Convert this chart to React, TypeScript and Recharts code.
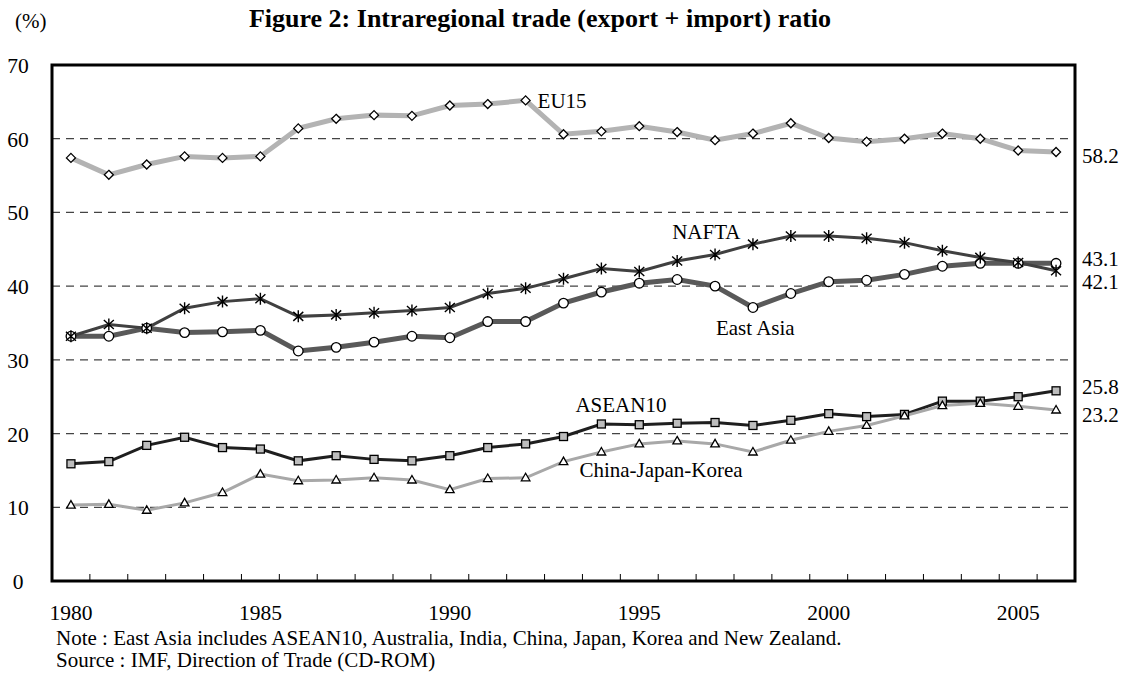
import { LineChart, Line, XAxis, YAxis, CartesianGrid, ReferenceArea } from "recharts";

const years = [
  1980, 1981, 1982, 1983, 1984, 1985, 1986, 1987, 1988, 1989, 1990, 1991, 1992, 1993,
  1994, 1995, 1996, 1997, 1998, 1999, 2000, 2001, 2002, 2003, 2004, 2005, 2006,
];
const eu15 = [57.4, 55.1, 56.5, 57.6, 57.4, 57.6, 61.4, 62.7, 63.2, 63.1, 64.5, 64.7, 65.2, 60.6, 61.0, 61.7, 60.9, 59.8, 60.7, 62.1, 60.1, 59.6, 60.0, 60.7, 60.0, 58.4, 58.2];
const nafta = [33.2, 34.8, 34.3, 37.0, 37.9, 38.3, 35.9, 36.1, 36.4, 36.7, 37.1, 39.0, 39.7, 41.0, 42.4, 42.0, 43.4, 44.3, 45.7, 46.8, 46.8, 46.5, 45.9, 44.8, 43.9, 43.2, 42.1];
const eastAsia = [33.2, 33.2, 34.3, 33.7, 33.8, 34.0, 31.2, 31.7, 32.4, 33.2, 33.0, 35.2, 35.2, 37.7, 39.2, 40.4, 40.9, 40.0, 37.1, 39.0, 40.6, 40.8, 41.6, 42.7, 43.1, 43.1, 43.1];
const asean10 = [15.9, 16.2, 18.4, 19.5, 18.1, 17.9, 16.3, 17.0, 16.5, 16.3, 17.0, 18.1, 18.6, 19.6, 21.3, 21.2, 21.4, 21.5, 21.1, 21.8, 22.7, 22.3, 22.6, 24.4, 24.4, 25.0, 25.8];
const cjk = [10.3, 10.4, 9.6, 10.6, 12.0, 14.5, 13.6, 13.7, 14.0, 13.7, 12.4, 13.9, 14.0, 16.2, 17.5, 18.6, 19.0, 18.6, 17.5, 19.1, 20.3, 21.1, 22.4, 23.8, 24.1, 23.7, 23.2];

const yTicks = [0, 10, 20, 30, 40, 50, 60, 70];
const yearLabels = [1980, 1985, 1990, 1995, 2000, 2005];

const data = years.map((year, i) => ({
  year,
  eu15: eu15[i],
  nafta: nafta[i],
  eastAsia: eastAsia[i],
  asean10: asean10[i],
  cjk: cjk[i],
}));

// tick marks sit between years, labels under every fifth year
const xTicks = [...yearLabels, ...years.slice(0, -1).map((y) => y + 0.5)];

const FONT = "'Liberation Serif', 'Times New Roman', serif";
const last = years.length - 1;

type Marker = (cx: number, cy: number) => JSX.Element;

const diamond: Marker = (cx, cy) => (
  <path d={`M${cx},${cy - 4.5}L${cx + 4.5},${cy}L${cx},${cy + 4.5}L${cx - 4.5},${cy}Z`} fill="#fff" stroke="#000" strokeWidth={1.3} />
);
const star: Marker = (cx, cy) => (
  <path
    d={`M${cx},${cy - 6}L${cx},${cy + 6}M${cx - 5},${cy - 4.5}L${cx + 5},${cy + 4.5}M${cx - 5},${cy + 4.5}L${cx + 5},${cy - 4.5}`}
    stroke="#000"
    strokeWidth={1.4}
    fill="none"
  />
);
const circle: Marker = (cx, cy) => <circle cx={cx} cy={cy} r={4.8} fill="#fff" stroke="#000" strokeWidth={1.3} />;
const square: Marker = (cx, cy) => <rect x={cx - 4} y={cy - 4} width={8} height={8} fill="#bdbdbd" stroke="#000" strokeWidth={1.3} />;
const triangle: Marker = (cx, cy) => (
  <path d={`M${cx},${cy - 4.5}L${cx + 4.3},${cy + 3}L${cx - 4.3},${cy + 3}Z`} fill="#fff" stroke="#000" strokeWidth={1.3} />
);

interface NameLabel {
  text: string;
  at: number;
  dx: number;
  dy: number;
}

function makeDot(key: string, marker: Marker, name: NameLabel, endDy: number) {
  return (p: any) => {
    const { cx, cy, index } = p;
    if (cx == null || cy == null) return <g key={index} />;
    return (
      <g key={index}>
        {marker(cx, cy)}
        {index === name.at && (
          <text x={cx + name.dx} y={cy + name.dy} fontSize={21} fontFamily={FONT} fill="#000">
            {name.text}
          </text>
        )}
        {index === last && (
          <text x={cx + 26} y={cy + endDy} fontSize={21} fontFamily={FONT} fill="#000">
            {Number(p.payload[key]).toFixed(1)}
          </text>
        )}
      </g>
    );
  };
}

const XTick = (p: any) => {
  const { x, y, payload } = p;
  const v = payload.value;
  if (Number.isInteger(v)) {
    return (
      <text x={x} y={y + 39} textAnchor="middle" fontSize={21.5} fontFamily={FONT} fill="#000">
        {v}
      </text>
    );
  }
  return <line x1={x} x2={x} y1={y} y2={y - 7} stroke="#000" strokeWidth={1} />;
};

const YTick = (p: any) => (
  <text x={18} y={p.y + 8} textAnchor="middle" fontSize={21.5} fontFamily={FONT} fill="#000">
    {p.payload.value}
  </text>
);

export default function App() {
  return (
    <div style={{ position: "absolute", left: 0, top: 0, width: 1127, height: 680, background: "#fff", fontFamily: FONT }}>
      <div style={{ position: "absolute", left: 15, top: 11, fontSize: 21, lineHeight: "21px" }}>(%)</div>
      <div style={{ position: "absolute", left: 0, width: 1080, top: 6, textAlign: "center", fontSize: 26, lineHeight: "26px", fontWeight: "bold" }}>
        Figure 2: Intraregional trade (export + import) ratio
      </div>

      <LineChart width={1127} height={680} data={data} margin={{ top: 65, right: 52, bottom: 59, left: 0 }}>
        <CartesianGrid vertical={false} stroke="#444" strokeDasharray="8 6" strokeWidth={1.2} />
        <ReferenceArea x1={1979.5} x2={2006.5} y1={0} y2={70} fill="none" stroke="#000" strokeWidth={3} ifOverflow="visible" />
        <XAxis
          dataKey="year"
          type="number"
          domain={[1979.5, 2006.5]}
          ticks={xTicks}
          interval={0}
          tick={XTick}
          tickLine={false}
          axisLine={false}
          tickSize={0}
          tickMargin={0}
          height={40}
        />
        <YAxis domain={[0, 70]} ticks={yTicks} tick={YTick} tickLine={false} axisLine={false} width={52} interval={0} />

        <Line
          dataKey="eu15"
          stroke="#b3b3b3"
          strokeWidth={5}
          isAnimationActive={false}
          dot={makeDot("eu15", diamond, { text: "EU15", at: 12, dx: 12, dy: 8 }, 11)}
        />
        <Line
          dataKey="eastAsia"
          stroke="#595959"
          strokeWidth={5}
          isAnimationActive={false}
          dot={makeDot("eastAsia", circle, { text: "East Asia", at: 18, dx: -37, dy: 27 }, 3)}
        />
        <Line
          dataKey="nafta"
          stroke="#404040"
          strokeWidth={3}
          isAnimationActive={false}
          dot={makeDot("nafta", star, { text: "NAFTA", at: 16, dx: -5, dy: -22 }, 18)}
        />
        <Line
          dataKey="asean10"
          stroke="#1f1f1f"
          strokeWidth={3}
          isAnimationActive={false}
          dot={makeDot("asean10", square, { text: "ASEAN10", at: 14, dx: -26, dy: -12 }, 3)}
        />
        <Line
          dataKey="cjk"
          stroke="#a8a8a8"
          strokeWidth={3}
          isAnimationActive={false}
          dot={makeDot("cjk", triangle, { text: "China-Japan-Korea", at: 14, dx: -22, dy: 25 }, 12)}
        />
      </LineChart>

      <div style={{ position: "absolute", left: 56, top: 628, fontSize: 21, lineHeight: "21px" }}>
        Note : East Asia includes ASEAN10, Australia, India, China, Japan, Korea and New Zealand.
      </div>
      <div style={{ position: "absolute", left: 56, top: 650, fontSize: 21, lineHeight: "21px" }}>
        Source : IMF, Direction of Trade (CD-ROM)
      </div>
    </div>
  );
}
